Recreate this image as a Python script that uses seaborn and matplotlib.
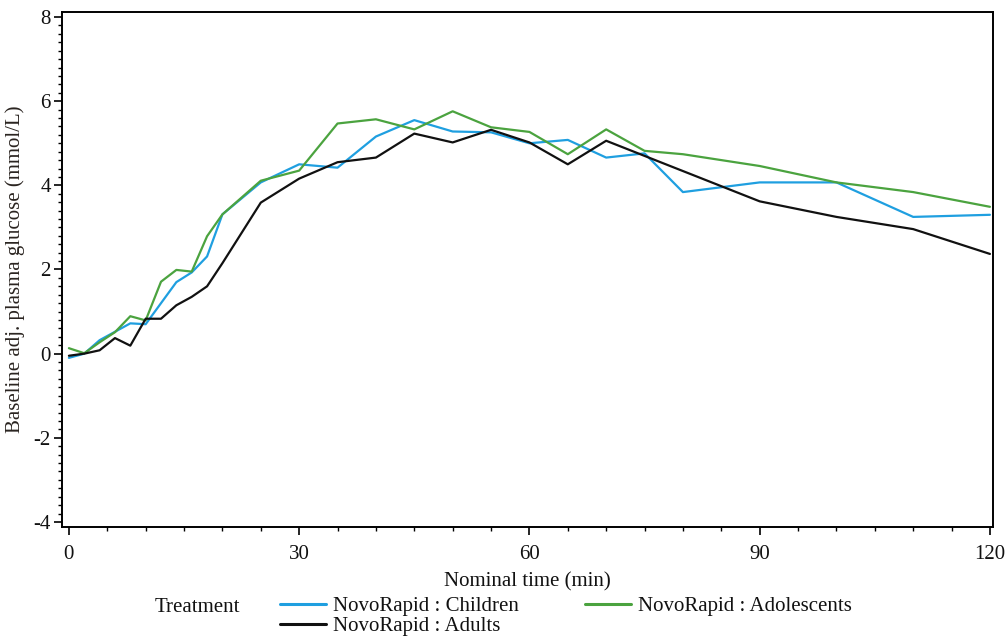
import matplotlib
matplotlib.use("Agg")
import matplotlib.pyplot as plt
from matplotlib.ticker import MultipleLocator
from matplotlib.lines import Line2D
import seaborn as sns
import pandas as pd

# Nominal sampling times (min)
time_min = [0, 2, 4, 6, 8, 10, 12, 14, 16, 18, 20, 25, 30, 35, 40, 45, 50,
            55, 60, 65, 70, 75, 80, 90, 100, 110, 120]

# Mean baseline-adjusted plasma glucose (mmol/L) per age group
children = [-0.10, 0.00, 0.32, 0.52, 0.72, 0.70, 1.20, 1.70, 1.93, 2.31, 3.31,
            4.07, 4.50, 4.42, 5.16, 5.55, 5.28, 5.26, 5.00, 5.08, 4.66, 4.76,
            3.84, 4.07, 4.07, 3.25, 3.30]
adolescents = [0.13, 0.01, 0.27, 0.51, 0.89, 0.79, 1.71, 1.99, 1.95, 2.79, 3.31,
               4.11, 4.35, 5.47, 5.57, 5.33, 5.76, 5.38, 5.27, 4.74, 5.33, 4.82,
               4.74, 4.46, 4.07, 3.84, 3.49]
adults = [-0.05, 0.00, 0.08, 0.37, 0.19, 0.83, 0.83, 1.15, 1.35, 1.60, 2.15,
          3.59, 4.16, 4.55, 4.66, 5.23, 5.02, 5.32, 5.02, 4.50, 5.06, 4.70,
          4.34, 3.62, 3.25, 2.96, 2.37]

group_labels = ["NovoRapid : Children", "NovoRapid : Adolescents",
                "NovoRapid : Adults"]
group_colors = ["#1f9fe0", "#4ba33f", "#111111"]

frames = []
for label, vals in zip(group_labels, [children, adolescents, adults]):
    frames.append(pd.DataFrame({"time": time_min, "glucose": vals,
                                "Treatment": label}))
df = pd.concat(frames, ignore_index=True)

sns.set_style("white")
plt.rcParams["font.family"] = ["Liberation Serif", "DejaVu Serif"]
plt.rcParams["axes.unicode_minus"] = False
FS = 15

fig = plt.figure(figsize=(10.08, 6.37), dpi=100)
ax = fig.add_axes([62 / 1008, 1 - 527 / 637, (993 - 62) / 1008, (527 - 12) / 637])

sns.lineplot(data=df, x="time", y="glucose", hue="Treatment",
             hue_order=group_labels, palette=group_colors, linewidth=1.6,
             ax=ax, legend=False, sort=False)

ax.set_xlim(-0.9, 120.4)
ax.set_ylim(-4.12, 8.12)
ax.set_xticks([0, 30, 60, 90, 120])
ax.set_yticks([-4, -2, 0, 2, 4, 6, 8])
ax.xaxis.set_minor_locator(MultipleLocator(5))
ax.yaxis.set_minor_locator(MultipleLocator(0.2))
ax.tick_params(axis="both", which="major", direction="out", length=6,
               width=1.2, color="black", labelsize=FS, labelcolor="#111111",
               bottom=True, left=True)
ax.tick_params(axis="x", which="major", pad=7)
ax.tick_params(axis="y", which="major", pad=2)
ax.tick_params(axis="both", which="minor", direction="out", length=3,
               width=1.0, color="black", bottom=True, left=True)

for sp in ax.spines.values():
    sp.set_color("black")
    sp.set_linewidth(1.4)

ax.set_xlabel("Nominal time (min)", fontsize=FS, labelpad=6, color="#111111")
ax.set_ylabel("Baseline adj. plasma glucose (mmol/L)", fontsize=FS,
              labelpad=6, color="#2a2420")

# Legend below the plot: title text at left, entries in two columns
fig.text(155 / 1008, 1 - 608 / 637, "Treatment", fontsize=FS, va="center",
         ha="left", color="#111111")
order = [0, 2, 1]
handles = [Line2D([0], [0], color=group_colors[i], linewidth=2.2) for i in order]
labels = [group_labels[i] for i in order]
fig.legend(handles, labels, ncol=2, loc="upper left",
           bbox_to_anchor=(280 / 1008, 1 - 596.5 / 637), frameon=False,
           fontsize=FS, handlelength=2.2, handletextpad=0.33,
           labelspacing=0.02, columnspacing=3.2, borderpad=0,
           borderaxespad=0, labelcolor="#111111")

fig.savefig("out.png", dpi=100)
